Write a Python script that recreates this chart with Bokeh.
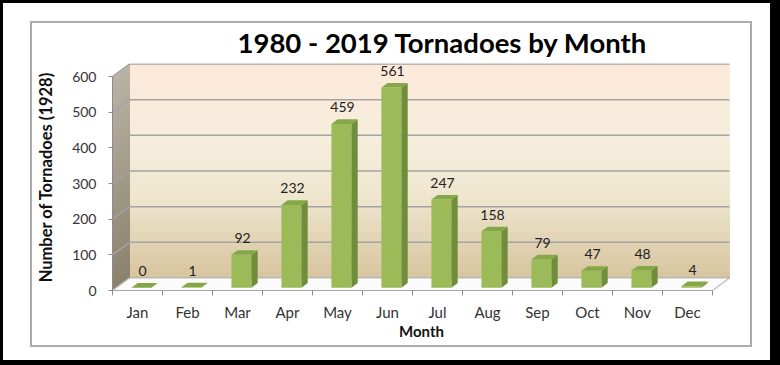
import numpy as np
from bokeh.plotting import figure
from bokeh.models import Range1d, FixedTicker, ColumnDataSource
from bokeh.embed import file_html
from bokeh.resources import INLINE
from bokeh.core.properties import value

# ---------------- data ----------------
months = ["Jan", "Feb", "Mar", "Apr", "May", "Jun", "Jul", "Aug", "Sep", "Oct", "Nov", "Dec"]
tornadoes = [0, 1, 92, 232, 459, 561, 247, 158, 79, 47, 48, 4]
y_ticks = [0, 100, 200, 300, 400, 500, 600]
title_text = "1980 - 2019 Tornadoes by Month"
x_title = "Month"
y_title = "Number of Tornadoes (1928)"

# ---------------- layout / style ----------------
W, H = 780, 365
ML, MR, MT, MB = 112, 50, 63, 75
PX_PER_CAT = 50.0
PX_PER_UNIT = 214.0 / 600.0
FONT = "Lato"

n = len(months)
frame_w = W - ML - MR
frame_h = H - MT - MB
x_start = -0.5
x_end = x_start + frame_w / PX_PER_CAT
y_end = frame_h / PX_PER_UNIT
ymax = y_ticks[-1]

DX = 17.0 / PX_PER_CAT          # depth offset (category units)
DY = 12.5 / PX_PER_UNIT         # depth offset (value units)
F0, F1 = 0.23, 0.60             # bar front/back depth fraction
BW = 0.4                        # bar width

p = figure(width=W, height=H, x_range=Range1d(x_start, x_end), y_range=Range1d(0, y_end),
           output_backend="svg", toolbar_location=None,
           min_border_left=ML, min_border_right=MR, min_border_top=MT, min_border_bottom=MB)
p.background_fill_color = "white"
p.border_fill_color = None
p.outline_line_color = None
p.xgrid.visible = False
p.ygrid.visible = False

# outer black frame + grey chart box, painted as CSS background behind the canvas
GREY = "linear-gradient(#ABABAB,#ABABAB)"
p.styles = {
    "background": ", ".join([
        f"{GREY} 30px 21px / 722px 2px no-repeat",
        f"{GREY} 30px 345px / 722px 2px no-repeat",
        f"{GREY} 30px 21px / 2px 326px no-repeat",
        f"{GREY} 750px 21px / 2px 326px no-repeat",
        "linear-gradient(#ffffff,#ffffff) 3px 3px / 767px 357px no-repeat",
        "#000000",
    ])
}


def hex2rgb(h):
    h = h.lstrip("#")
    return np.array([int(h[i:i + 2], 16) for i in (0, 2, 4)], dtype=float)


def grad(stops, t):
    for (t0, c0), (t1, c1) in zip(stops[:-1], stops[1:]):
        if t0 <= t <= t1:
            f = (t - t0) / (t1 - t0) if t1 > t0 else 0
            c = hex2rgb(c0) * (1 - f) + hex2rgb(c1) * f
            return "#%02x%02x%02x" % tuple(int(round(v)) for v in c)
    return stops[-1][1]


# back wall gradient (t=0 top, t=1 bottom)
wall_stops = [(0.0, "#FDE9D9"), (0.35, "#F6EDDC"), (0.62, "#EFE6CF"), (1.0, "#D7C49E")]
side_stops = [(0.0, "#B9B3A4"), (1.0, "#8A816D")]
NS = 60
lefts, rights, bots, tops, cols = [], [], [], [], []
sxs, sys_, scols = [], [], []
for k in range(NS):
    v0 = ymax * k / NS
    v1 = ymax * (k + 1) / NS
    t = 1 - (k + 0.5) / NS
    lefts.append(x_start + DX)
    rights.append(n - 0.5 + DX)
    bots.append(v0 + DY)
    tops.append(v1 + DY)
    cols.append(grad(wall_stops, t))
    sxs.append([x_start, x_start, x_start + DX, x_start + DX])
    sys_.append([v0, v1, v1 + DY, v0 + DY])
    scols.append(grad(side_stops, t))
p.quad(left=lefts, right=rights, bottom=bots, top=tops, fill_color=cols, line_color=cols, line_width=1)
p.patches(xs=sxs, ys=sys_, fill_color=scols, line_color=scols, line_width=1)

# gridlines on back + side wall
gx0 = [x_start + DX] * len(y_ticks) + [x_start] * len(y_ticks)
gx1 = [n - 0.5 + DX] * len(y_ticks) + [x_start + DX] * len(y_ticks)
gy0 = [v + DY for v in y_ticks] + list(y_ticks)
gy1 = [v + DY for v in y_ticks] + [v + DY for v in y_ticks]
p.segment(x0=gx0, y0=gy0, x1=gx1, y1=gy1, line_color="#A3A3A3", line_width=1.5)

# floor
p.patch(x=[x_start, n - 0.5, n - 0.5 + DX, x_start + DX], y=[0, 0, DY, DY],
        fill_color="#FBFBFB", line_color="#BDBDBD", line_width=1.2)

# bars (3D)
pos = np.arange(n, dtype=float)
vals = np.array(tornadoes, dtype=float)
l0 = pos - BW / 2 + F0 * DX
r0 = pos + BW / 2 + F0 * DX
l1 = pos - BW / 2 + F1 * DX
r1 = pos + BW / 2 + F1 * DX
b0 = F0 * DY
b1 = F1 * DY
p.quad(left=l0, right=r0, bottom=[b0] * n, top=vals + b0, fill_color="#9BBB59", line_color=None)
p.patches(xs=[[a, b, b, a] for a, b in zip(r0, r1)],
          ys=[[b0, b1, v + b1, v + b0] for v in vals],
          fill_color="#6F8D3A", line_color=None)
p.patches(xs=[[a, b, d, c] for a, b, c, d in zip(l0, r0, l1, r1)],
          ys=[[v + b0, v + b0, v + b1, v + b1] for v in vals],
          fill_color="#86A748", line_color=None)

# data labels
src = ColumnDataSource(dict(x=pos, y=vals, t=[str(v) for v in tornadoes]))
p.text(x="x", y="y", text="t", source=src, x_offset=5, y_offset=-19.5,
       text_font=value(FONT), text_font_size=value("14px"), text_color="#222222",
       text_align="center", text_baseline="middle")

# axes
p.yaxis.ticker = FixedTicker(ticks=y_ticks)
p.yaxis.bounds = (0, ymax)
p.yaxis.axis_line_color = "#8C8C8C"
p.yaxis.major_tick_line_color = "#8C8C8C"
p.yaxis.major_tick_out = 4
p.yaxis.major_tick_in = 0
p.yaxis.minor_tick_line_color = None
p.yaxis.major_label_standoff = 12
p.yaxis.major_label_text_font = FONT
p.yaxis.major_label_text_font_size = "14px"
p.yaxis.major_label_text_color = "#333333"
p.yaxis.axis_label = y_title
p.yaxis.axis_label_text_font = FONT
p.yaxis.axis_label_text_font_style = "bold"
p.yaxis.axis_label_text_font_size = "16.5px"
p.yaxis.axis_label_text_color = "#111111"
p.yaxis.axis_label_standoff = 13

p.xaxis.ticker = FixedTicker(ticks=list(range(n)), minor_ticks=[i - 0.5 for i in range(n + 1)])
p.xaxis.major_label_overrides = {i: m for i, m in enumerate(months)}
p.xaxis.bounds = (x_start, n - 0.5)
p.xaxis.axis_line_color = "#A6A6A6"
p.xaxis.major_tick_line_color = None
p.xaxis.major_tick_out = 0
p.xaxis.major_tick_in = 0
p.xaxis.minor_tick_line_color = "#8C8C8C"
p.xaxis.minor_tick_out = 5
p.xaxis.minor_tick_in = 0
p.xaxis.major_label_standoff = 7
p.xaxis.major_label_text_font = FONT
p.xaxis.major_label_text_font_size = "15px"
p.xaxis.major_label_text_color = "#333333"
p.xaxis.axis_label = x_title
p.xaxis.axis_label_text_font = FONT
p.xaxis.axis_label_text_font_style = "bold"
p.xaxis.axis_label_text_font_size = "15px"
p.xaxis.axis_label_text_color = "#111111"
p.xaxis.axis_label_standoff = -2

# title
p.title.text = title_text
p.title.text_font = FONT
p.title.text_font_style = "bold"
p.title.text_font_size = "27.5px"
p.title.text_color = "#000000"
p.title.align = "left"
p.title.offset = 125
p.title.standoff = 10

open("out.html", "w").write(file_html(p, INLINE))
